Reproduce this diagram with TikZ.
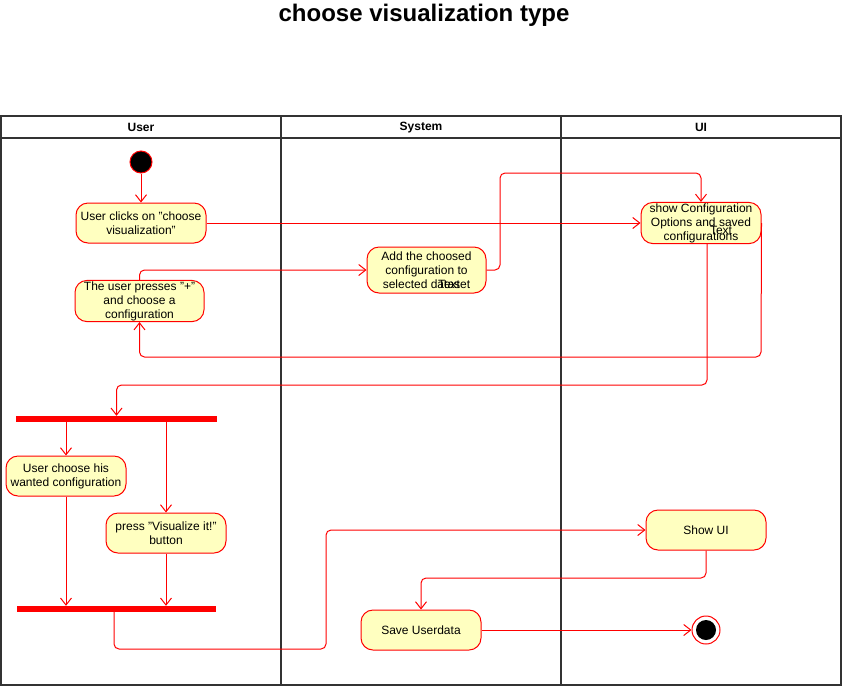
\documentclass[tikz,border=0pt]{standalone}
\usepackage{fontspec}
\setmainfont{Liberation Sans}
\usetikzlibrary{arrows.meta}
\definecolor{actfill}{HTML}{FFFFC0}
\tikzset{
  act/.style={draw=red, line width=1pt, fill=actfill, rounded corners=12pt, minimum width=120pt,
    minimum height=40pt, inner sep=1pt, align=center, font=\fontsize{12}{14}\selectfont},
  bar/.style={fill=red, minimum width=200pt, minimum height=6pt, inner sep=0pt},
  flow/.style={draw=red, line width=1pt, rounded corners=5pt, -{Straight Barb[length=7pt,width=11pt]}},
  lane/.style={draw=black!80, line width=1.3pt}
}
\begin{document}
\begin{tikzpicture}[x=1pt,y=-1pt]
    \useasboundingbox (0,0) rectangle (842,686);
    \node[font=\fontsize{24}{28}\selectfont\bfseries] (title) at (424,15) {choose visualization type};
    % swimlanes
    \draw[lane] (1,116) rectangle (841,685);
    \draw[lane] (1,138) -- (841,138);
    \foreach \x in {281,561}
        \draw[lane] (\x,116) -- (\x,685);
    \foreach \x/\name in {141/User,421/System,701/UI}
        \node[font=\fontsize{12}{14}\selectfont\bfseries] (head\name) at (\x,127.5) {\name};
    % nodes
    \node[circle, draw=red, line width=1pt, fill=black, minimum size=22pt, inner sep=0pt] (start) at (141,162) {};
    \node[act, minimum width=130pt] (clicks) at (141,223) {User clicks on "choose\\visualization"};
    \node[act, minimum width=129pt] (presses) at (139.5,301) {The user presses "+"\\and choose a\\configuration};
    \node[act, minimum width=119pt, minimum height=46pt] (addcfg) at (426.5,270) {Add the choosed\\configuration to\\selected dataset};
    \node[font=\fontsize{12}{14}\selectfont] (text1) at (449,284) {Text};
    \node[act] (showcfg) at (701,223) {show Configuration\\Options and saved\\configurations};
    \node[font=\fontsize{12}{14}\selectfont] (text2) at (721,230) {Text};
    \node[bar, minimum width=201pt] (fork) at (116.5,419) {};
    \node[act] (choose) at (66,476) {User choose his\\wanted configuration};
    \node[act] (press) at (166,533) {press "Visualize it!"\\button};
    \node[bar, minimum width=199pt] (join) at (116.5,609) {};
    \node[act] (showui) at (706,530) {Show UI};
    \node[act] (save) at (421,630) {Save Userdata};
    \node[circle, draw=red, line width=1pt, fill=white, minimum size=28pt, inner sep=0pt] (stop) at (706,630) {};
    \fill (stop) circle (10);
    % connectors
    \coordinate (hop1) at (500,173);
    \coordinate (loop1) at (761,357);
    \coordinate (loop2) at (707,385);
    \coordinate (hop2) at (326,649);
    \coordinate (hop3) at (421,578);
    \draw[flow] (start) -- (clicks);
    \draw[flow] (clicks) -- (showcfg);
    \draw[flow] (presses.north) |- (addcfg.west);
    \draw[flow] (addcfg.east) -| (hop1) -| (showcfg.north);
    \draw[flow] (showcfg.east) -- (loop1) -| (presses.south);
    \draw[flow] ([xshift=6pt]showcfg.south) -- (loop2) -| (fork.north);
    \draw[flow] (choose.north |- fork.south) -- (choose.north);
    \draw[flow] (press.north |- fork.south) -- (press.north);
    \draw[flow] (choose.south) -- (choose.south |- join.north);
    \draw[flow] (press.south) -- (press.south |- join.north);
    \draw[flow] ([xshift=-2.5pt]join.south) |- (hop2) |- (showui.west);
    \draw[flow] (showui.south) |- (hop3) -- (save.north);
    \draw[flow] (save) -- (stop);
\end{tikzpicture}
\end{document}
